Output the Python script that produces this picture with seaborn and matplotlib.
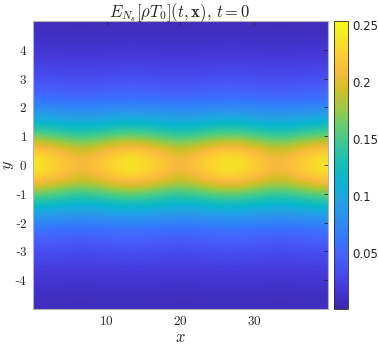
import numpy as np
import pandas as pd
import matplotlib
matplotlib.use("Agg")
import matplotlib.pyplot as plt
import seaborn as sns
from matplotlib.colors import LinearSegmentedColormap

# grid nodes (x: quarter periods, y: every 0.5)
x_nodes = [0.0, 3.325, 6.65, 9.975, 13.3, 16.625, 19.95, 23.275, 26.6, 29.925, 33.25, 36.575, 39.9]
y_nodes = [-5.0, -4.5, -4.0, -3.5, -3.0, -2.5, -2.0, -1.5, -1.0, -0.5, 0.0,
           0.5, 1.0, 1.5, 2.0, 2.5, 3.0, 3.5, 4.0, 4.5, 5.0]

# vertical profiles (bottom -> top) at the bulges, in between and at the necks
peak_col = [0.008, 0.011, 0.016, 0.024, 0.035, 0.050, 0.073, 0.112, 0.165, 0.228, 0.250,
            0.228, 0.165, 0.112, 0.073, 0.050, 0.035, 0.024, 0.016, 0.011, 0.008]
mid_col = [0.008, 0.011, 0.016, 0.023, 0.034, 0.048, 0.070, 0.106, 0.155, 0.212, 0.230,
           0.212, 0.155, 0.106, 0.070, 0.048, 0.034, 0.023, 0.016, 0.011, 0.008]
neck_col = [0.007, 0.010, 0.015, 0.022, 0.032, 0.045, 0.066, 0.100, 0.142, 0.192, 0.207,
            0.192, 0.142, 0.100, 0.066, 0.045, 0.032, 0.022, 0.015, 0.010, 0.007]
col_kind = ["peak", "mid", "neck", "mid", "peak", "mid", "neck", "mid",
            "peak", "mid", "neck", "mid", "peak"]

cbar_ticks = [0.05, 0.1, 0.15, 0.2, 0.25]
cbar_labels = ["0.05", "0.1", "0.15", "0.2", "0.25"]
xticks = [10, 20, 30]
yticks = [-4, -3, -2, -1, 0, 1, 2, 3, 4]

profiles = {"peak": peak_col, "mid": mid_col, "neck": neck_col}
field = pd.DataFrame({x: profiles[k] for x, k in zip(x_nodes, col_kind)}, index=y_nodes)

# parula colormap (subset of the 64-entry table)
parula_rgb = [
    (0.2422, 0.1504, 0.6603), (0.2706, 0.2147, 0.8364), (0.2813, 0.3006, 0.9414),
    (0.2699, 0.3892, 0.9906), (0.1963, 0.4847, 0.9892), (0.1687, 0.5703, 0.9359),
    (0.1248, 0.6459, 0.8883), (0.0297, 0.7082, 0.8163), (0.0964, 0.7500, 0.7120),
    (0.2161, 0.7843, 0.5923), (0.3909, 0.8029, 0.4354), (0.6174, 0.7876, 0.2612),
    (0.8203, 0.7498, 0.1535), (0.9728, 0.7298, 0.2394), (0.9892, 0.8136, 0.1885),
    (0.9597, 0.9135, 0.1423), (0.9769, 0.9839, 0.0805)]
parula_pos = [0, 4, 8, 12, 16, 20, 24, 28, 32, 36, 40, 44, 48, 52, 56, 60, 63]
parula = LinearSegmentedColormap.from_list(
    "parula", [(p / 63, c) for p, c in zip(parula_pos, parula_rgb)])

sns.set_style("white")
plt.rcParams["mathtext.fontset"] = "cm"
plt.rcParams["font.family"] = ["DejaVu Sans"]

fig = plt.figure(figsize=(3.78, 3.47), dpi=100)
ax = fig.add_axes([0.0865, 0.1095, 0.780, 0.830])
cax = fig.add_axes([0.8844, 0.1095, 0.0354, 0.830])

dx = x_nodes[1] - x_nodes[0]
dy = y_nodes[1] - y_nodes[0]
im = ax.imshow(field.values, origin="lower", aspect="auto", cmap=parula,
               interpolation="bicubic", vmin=0.001, vmax=0.2535,
               extent=[x_nodes[0] - dx / 2, x_nodes[-1] + dx / 2,
                       y_nodes[0] - dy / 2, y_nodes[-1] + dy / 2])
ax.set_xlim(x_nodes[0], x_nodes[-1])
ax.set_ylim(-5, 5)

ax.set_xticks(xticks)
ax.set_xticklabels([f"${t}$" for t in xticks], fontsize=9.5)
ax.set_yticks(yticks)
ax.set_yticklabels([("-" if t < 0 else "") + f"${abs(t)}$" for t in yticks],
                   fontsize=9.5, family="DejaVu Serif")
ax.tick_params(direction="in", length=3, width=0.6, color="#262626",
               top=True, right=True, pad=4)
for s in ax.spines.values():
    s.set_color("#b3b3b3")
    s.set_linewidth(0.8)

ax.set_title(r"$E_{N_s}[\rho T_0](t,\mathbf{x}),\, t=0$", fontsize=12, pad=3)
ax.set_xlabel("$x$", fontsize=12, labelpad=0)
ax.set_ylabel("$y$", fontsize=11.5)
ax.yaxis.set_label_coords(-0.057, 0.5)

cb = fig.colorbar(im, cax=cax)
cb.set_ticks(cbar_ticks)
cb.set_ticklabels(cbar_labels)
cb.ax.tick_params(direction="in", length=3, width=0.6, labelsize=8.5, pad=3)
cb.outline.set_edgecolor("#262626")
cb.outline.set_linewidth(0.6)

fig.savefig("out.png", dpi=100)
